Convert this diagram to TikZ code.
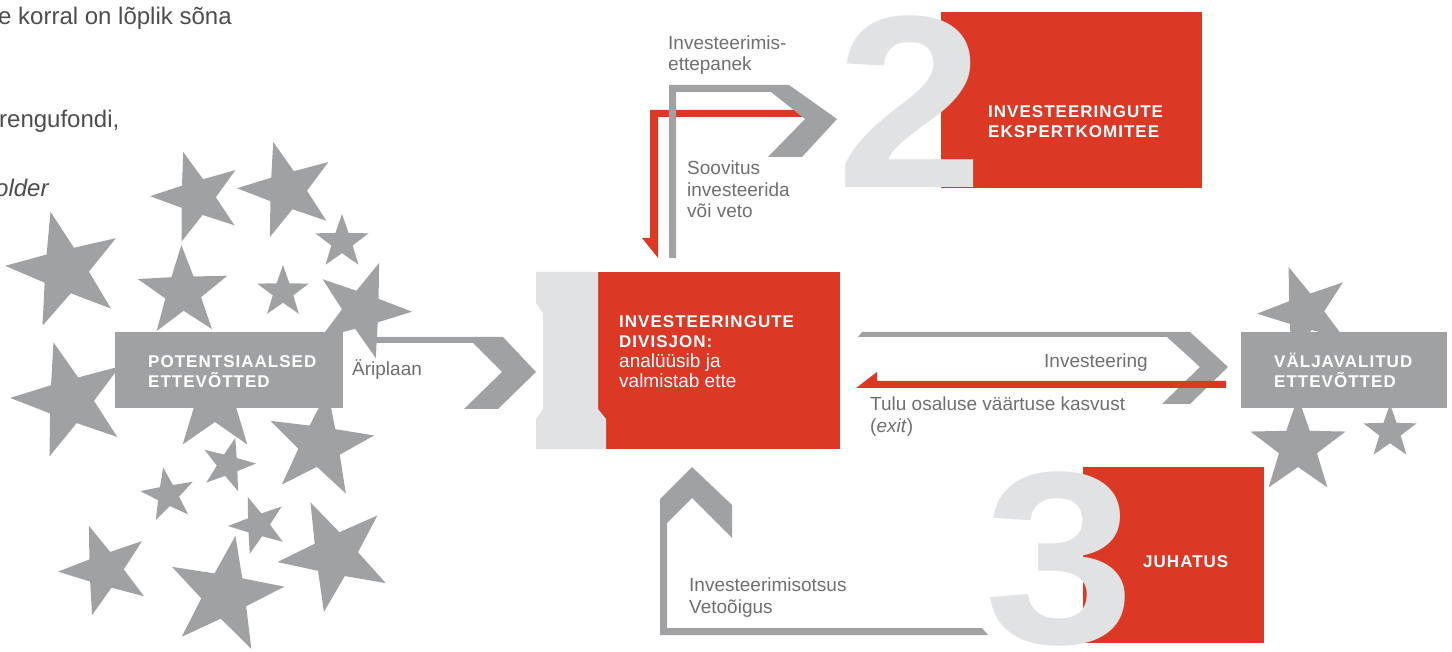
\documentclass[tikz,border=0pt]{standalone}
\usepackage{fontspec}
\setmainfont{Liberation Sans}
\newfontfamily\capsfont[LetterSpace=6]{Liberation Sans}
\usetikzlibrary{shapes.geometric,positioning}
\definecolor{starGray}{HTML}{A0A1A3}
\definecolor{numGray}{HTML}{E1E2E4}
\definecolor{boxRed}{HTML}{DB3825}
\definecolor{labelGray}{HTML}{6E6F71}
\definecolor{bodyGray}{HTML}{4D4D4F}
\tikzset{
  gstar/.style={star, star points=5, star point ratio=2.5, fill=starGray, inner sep=0pt, minimum size=#1},
  panel/.style={anchor=north west, inner sep=0pt, fill=#1},
  boxtext/.style={anchor=base west, inner sep=0pt, text=white, align=left,
    font=\capsfont\bfseries\fontsize{17}{20.5}\selectfont},
  boxsub/.style={anchor=base west, inner sep=0pt, text=white, align=left,
    font=\fontsize{19}{20}\selectfont},
  lbl/.style={anchor=base west, inner sep=0pt, text=labelGray, align=left,
    font=\fontsize{19}{21.5}\selectfont},
  body/.style={anchor=base west, inner sep=0pt, text=bodyGray, font=\fontsize{24}{28}\selectfont},
  bignum/.style={anchor=base west, inner sep=0pt, text=numGray,
    font=\bfseries\fontsize{246}{246}\selectfont},
}

\begin{document}
\begin{tikzpicture}[x=1pt,y=-1pt]
  \useasboundingbox (0,0) rectangle (1452,652);

  % cut-off text column (base = last line)
  \node[body] (txtA) at (-2,25) {e korral on lõplik sõna};
  \node[body] (txtB) at (-1,128) {rengufondi,};
  \node[body,font=\fontsize{24}{28}\selectfont\itshape] (txtC) at (-5,197) {older};

  % stars
  \foreach \sx/\sy/\sd/\sa [count=\i] in {65/270/120/14, 197/197/94/17, 287/190/100/16,
      342/242/56/0, 183/292/94/2, 283/292/54/0, 362/310/100/-20, 70/400/120/16,
      215/400/110/0, 320/445/110/-8, 168/495/56/10, 228/465/56/-15, 258/525/60/20,
      105/570/94/20, 225/595/120/-10, 335/555/116/25,
      1305/312/96/20, 1298/447/100/0, 1390/432/56/0}
    \node[gstar=\sd pt, rotate=\sa] (star\i) at (\sx,\sy) {};

  % candidates and chosen companies
  \node[panel=starGray, minimum width=228pt, minimum height=76pt] (pot) at (115,332) {};
  \node[boxtext] (potT) at (148,388) {POTENTSIAALSED\\ETTEVÕTTED};
  \node[panel=starGray, minimum width=206pt, minimum height=76pt] (valj) at (1241,332) {};
  \node[boxtext] (valjT) at (1274,388) {VÄLJAVALITUD\\ETTEVÕTTED};

  % business plan arrow
  \fill[starGray] (371,337) -- (503,337) -- (536,372) -- (498,409) -- (464,409)
    -- (502,372) -- (473,343) -- (371,343) -- cycle;

  % 1: division
  \node[panel=boxRed, minimum width=242pt, minimum height=177pt] (div) at (598,272) {};
  \fill[numGray] (536,272) -- (598,272) -- (598,409) -- (606,419) -- (606,449)
    -- (536,449) -- (536,419) -- (543,409) -- (543,313) -- (536,303) -- cycle;
  \node[boxtext] (divT) at (619,348) {INVESTEERINGUTE\\DIVISJON:};
  \node[boxsub] (divS) at (619,388) {analüüsib ja\\valmistab ette};

  % recommendation back, proposal up
  \fill[boxRed] (650,110) -- (810,110) -- (810,117) -- (658,117) -- (658,258)
    -- (642,238) -- (650,238) -- cycle;
  \fill[starGray] (669,258) -- (669,85) -- (789,85) -- (837,119) -- (802,157)
    -- (768,157) -- (805,119) -- (771,92) -- (676,92) -- (676,258) -- cycle;

  % 2: committee
  \node[panel=boxRed, minimum width=261pt, minimum height=176pt] (kom) at (941,12) {};
  \node[bignum, xscale=1.08] (two) at (836,188) {2};
  \node[boxtext] (komT) at (988,138) {INVESTEERINGUTE\\EKSPERTKOMITEE};

  % investment out, exit back
  \fill[starGray] (862,332) -- (1190,332) -- (1228,367) -- (1190,404) -- (1162,404)
    -- (1200,367) -- (1167,337) -- (858,337) -- cycle;
  \fill[boxRed] (1226,381) -- (877,381) -- (877,372) -- (856,388) -- (1226,388) -- cycle;

  % decision arrow
  \fill[starGray] (988,635) -- (660,635) -- (660,499) -- (692,467) -- (732,505)
    -- (732,538) -- (692,498) -- (667,523) -- (667,628) -- (982,628) -- cycle;

  % 3: board
  \node[panel=boxRed, minimum width=181pt, minimum height=176pt] (juh) at (1083,467) {};
  \node[bignum, xscale=1.1] (three) at (984,643) {3};
  \node[boxtext] (juhT) at (1143,567) {JUHATUS};

  % labels
  \node[lbl] (propL) at (668,71) {Investeerimis-\\ettepanek};
  \node[lbl] (recL) at (687,218) {Soovitus\\investeerida\\või veto};
  \node[lbl] (planL) at (352,376) {Äriplaan};
  \node[lbl] (invL) at (1044,368) {Investeering};
  \node[lbl] (exitL) at (870,432) {Tulu osaluse väärtuse kasvust\\(\textit{exit})};
  \node[lbl] (decL) at (689,613) {Investeerimisotsus\\Vetoõigus};
\end{tikzpicture}
\end{document}
